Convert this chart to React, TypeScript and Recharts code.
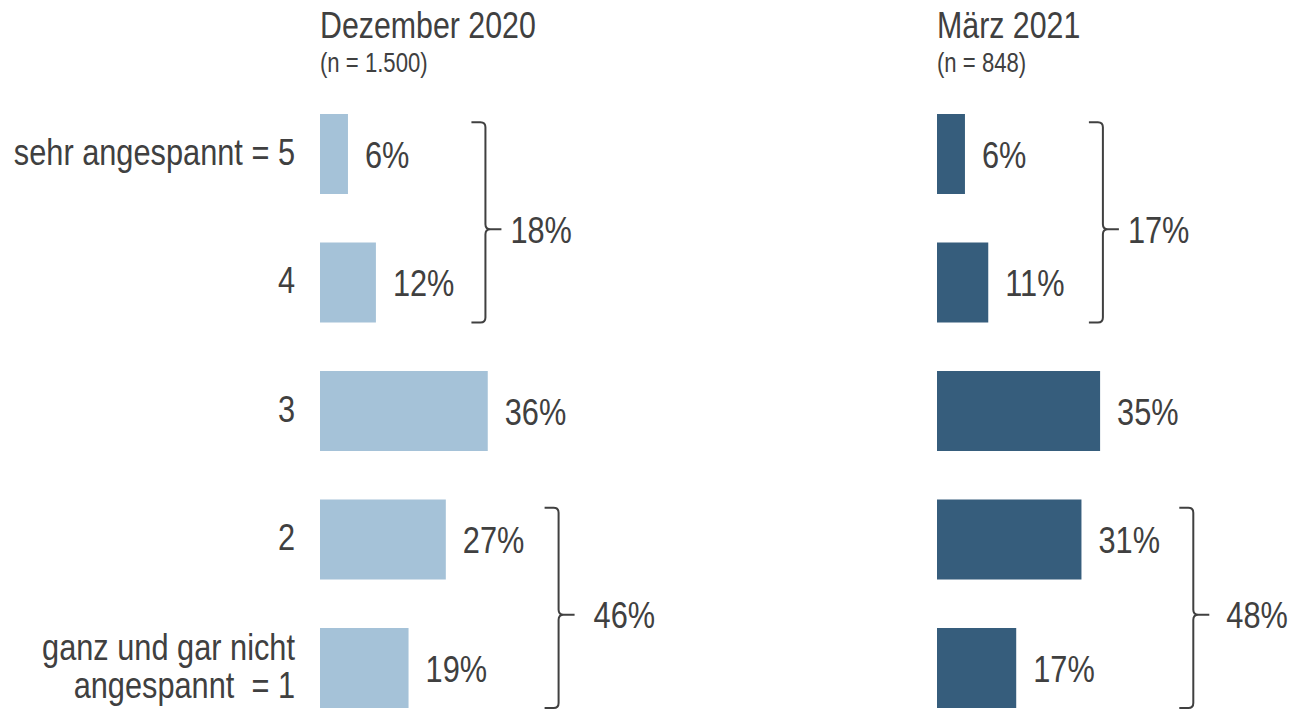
import { BarChart, Bar, XAxis, YAxis, LabelList, ReferenceLine } from "recharts";

// no Arial Narrow in the sandbox: Liberation Sans squeezed horizontally
const FONT = '"Liberation Sans", Arial, sans-serif';
const SQUEEZE = 0.82;
const TEXT = "#404040";

const CATEGORIES = ["sehr angespannt = 5", "4", "3", "2", "ganz und gar nicht\nangespannt  = 1"];
const DEZ_2020 = [6, 12, 36, 27, 19];
const MAERZ_2021 = [6, 11, 35, 31, 17];

// top-2 / bottom-2 sums shown next to the brackets
const DEZ_GROUPS = [
  { from: 0, to: 1, total: 18 },
  { from: 3, to: 4, total: 46 },
];
const MAERZ_GROUPS = [
  { from: 0, to: 1, total: 17 },
  { from: 3, to: 4, total: 48 },
];

// where each bracket sits (in % of the value axis) and the gap before its label (px)
const DEZ_BRACKET_POS = [
  { x: 35.5, gap: 9 },
  { x: 51.2, gap: 19 },
];
const MAERZ_BRACKET_POS = [
  { x: 35.6, gap: 9 },
  { x: 55, gap: 17 },
];

const PLOT_W = 466;

function NarrowText({
  x,
  y,
  size = 37.5,
  anchor = "start",
  children,
}: {
  x: number;
  y: number;
  size?: number;
  anchor?: "start" | "end" | "middle";
  children: any;
}) {
  return (
    <text
      transform={`translate(${x},${y}) scale(${SQUEEZE},1)`}
      textAnchor={anchor}
      fill={TEXT}
      fontSize={size}
      fontFamily={FONT}
      style={{ whiteSpace: "pre" }}
    >
      {children}
    </text>
  );
}

const CatTick = (props: any) => {
  const { x, y, payload } = props;
  const lines = String(payload.value).split("\n");
  const lh = 38;
  const first = y + 10.5 - ((lines.length - 1) * lh) / 2;
  return (
    <g>
      {lines.map((l, i) => (
        <NarrowText key={i} x={x} y={first + i * lh} anchor="end">
          {l}
        </NarrowText>
      ))}
    </g>
  );
};

const ValueLabel = (props: any) => {
  const { x, y, width, height, value } = props;
  return (
    <NarrowText x={x + width + 17} y={y + height / 2 + 13.5}>
      {`${value}%`}
    </NarrowText>
  );
};

// the line arrives from the centre of the first row to the centre of the last row;
// the bracket reaches a bit past both bars
const bracket = (label: string, rows: number, gap: number) => (props: any) => {
  const { x1, y1, y2 } = props;
  const x = x1;
  const band = Math.abs(y2 - y1) / rows;
  const top = Math.min(y1, y2) - band * 0.25;
  const bot = Math.max(y1, y2) + band * 0.31;
  const mid = top + (bot - top) * 0.535;
  const hook = 14;
  const r = 5;
  const tick = 16;
  const d =
    `M${x - hook},${top} H${x - r} Q${x},${top} ${x},${top + r} V${mid - r} Q${x},${mid} ${x + r},${mid} H${x + tick} ` +
    `M${x + r},${mid} Q${x},${mid} ${x},${mid + r} V${bot - r} Q${x},${bot} ${x - r},${bot} H${x - hook}`;
  return (
    <g>
      <path d={d} fill="none" stroke={TEXT} strokeWidth={2} />
      <NarrowText x={x + tick + gap} y={mid + 13.5}>
        {label}
      </NarrowText>
    </g>
  );
};

function Panel({
  values,
  groups,
  bracketPos,
  color,
  showCategories,
}: {
  values: number[];
  groups: { from: number; to: number; total: number }[];
  bracketPos: { x: number; gap: number }[];
  color: string;
  showCategories: boolean;
}) {
  const data = CATEGORIES.map((c, i) => ({ cat: c, v: values[i] }));
  const axisW = showCategories ? 320 : 0;
  return (
    <BarChart
      width={axisW + PLOT_W + 80}
      height={740}
      data={data}
      layout="vertical"
      margin={{ top: 90, right: 80, bottom: 7.5, left: 0 }}
    >
      <XAxis type="number" domain={[0, 100]} allowDataOverflow hide />
      <YAxis
        type="category"
        dataKey="cat"
        width={axisW}
        hide={!showCategories}
        axisLine={false}
        tickLine={false}
        tickSize={0}
        tickMargin={25}
        tick={<CatTick />}
        interval={0}
      />
      <Bar dataKey="v" fill={color} barSize={80} isAnimationActive={false}>
        <LabelList dataKey="v" content={<ValueLabel />} />
      </Bar>
      {groups.map((g, i) => (
        <ReferenceLine
          key={i}
          ifOverflow="visible"
          segment={[
            { x: bracketPos[i].x, y: CATEGORIES[g.from] },
            { x: bracketPos[i].x, y: CATEGORIES[g.to] },
          ]}
          shape={bracket(`${g.total}%`, g.to - g.from, bracketPos[i].gap)}
        />
      ))}
    </BarChart>
  );
}

export default function App() {
  return (
    <div
      style={{
        position: "absolute",
        left: 0,
        top: 0,
        width: 1291,
        height: 714,
        overflow: "hidden",
        background: "#fff",
      }}
    >
      <svg width={1291} height={90} style={{ position: "absolute", left: 0, top: 0 }}>
        <NarrowText x={320} y={38} size={37}>
          Dezember 2020
        </NarrowText>
        <NarrowText x={320} y={72} size={27}>
          (n = 1.500)
        </NarrowText>
        <NarrowText x={937} y={38} size={37}>
          März 2021
        </NarrowText>
        <NarrowText x={937} y={72} size={27}>
          (n = 848)
        </NarrowText>
      </svg>
      <div style={{ position: "absolute", left: 0, top: 0 }}>
        <Panel values={DEZ_2020} groups={DEZ_GROUPS} bracketPos={DEZ_BRACKET_POS} color="#a5c2d8" showCategories />
      </div>
      <div style={{ position: "absolute", left: 937, top: 0 }}>
        <Panel
          values={MAERZ_2021}
          groups={MAERZ_GROUPS}
          bracketPos={MAERZ_BRACKET_POS}
          color="#365d7c"
          showCategories={false}
        />
      </div>
    </div>
  );
}
